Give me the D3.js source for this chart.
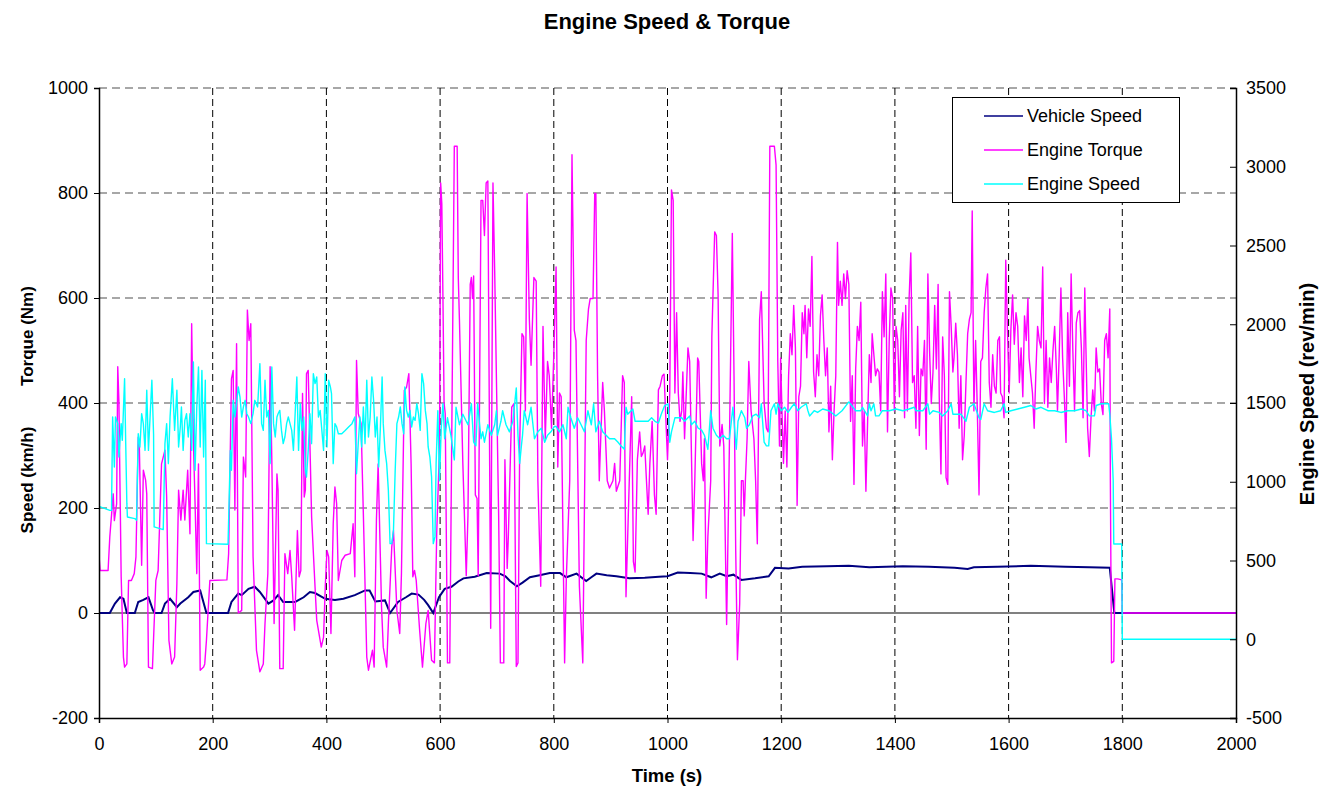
<!DOCTYPE html>
<html>
<head>
<meta charset="utf-8">
<script src="https://cdn.jsdelivr.net/npm/d3@7"></script>
<style>
  html, body { margin: 0; padding: 0; background: #fff; }
  svg { display: block; font-family: "Liberation Sans", Arial, sans-serif; }
</style>
</head>
<body>
<svg id="chart" width="1331" height="786"></svg>
<script>
// ---- data: [time (s), value] ----
const vehicleSpeed = [[0,0],[19,0],[28,18],[37,30],[43,27],[49,0],[63,0],[69,21],[78,25],[87,30],[95,5],[98,0],[110,0],[116,18],[125,27],[137,11],[143,18],[157,30],[166,40],[178,43],[189,0],[227,0],[233,21],[245,37],[251,34],[263,46],[274,50],[283,40],[298,18],[307,24],[315,34],[324,21],[345,21],[360,30],[371,40],[380,38],[398,27],[415,25],[430,27],[450,34],[468,43],[476,43],[486,22],[503,24],[512,0],[526,21],[540,30],[550,37],[562,35],[572,25],[579,15],[588,0],[598,30],[608,46],[620,50],[632,60],[641,66],[661,69],[682,76],[705,75],[715,70],[723,61],[735,51],[745,58],[758,68],[775,72],[793,76],[811,76],[822,68],[840,75],[857,61],[866,68],[875,75],[893,72],[910,70],[933,66],[960,67],[985,69],[1000,70],[1018,77],[1040,76],[1060,75],[1077,68],[1092,75],[1104,70],[1116,73],[1130,63],[1154,66],[1178,70],[1189,86],[1213,85],[1237,88],[1280,89],[1319,90],[1355,87],[1414,89],[1460,88],[1505,86],[1528,84],[1539,87],[1580,88],[1639,90],[1700,88],[1742,87],[1778,86],[1786,0],[2000,0]];

const engineTorque = [[0,110],[2,81],[16,81],[19,145],[25,227],[27,176],[31,208],[33,469],[35,405],[39,69],[43,-84],[45,-103],[49,-97],[52,62],[57,62],[62,75],[65,107],[69,335],[71,316],[75,91],[78,272],[82,253],[84,227],[87,-103],[94,-106],[97,-20],[100,62],[104,81],[110,284],[116,310],[119,221],[123,-52],[128,-97],[133,-84],[137,56],[140,234],[144,177],[148,234],[151,177],[156,272],[160,151],[163,551],[166,329],[169,208],[172,75],[175,284],[178,-109],[184,-103],[186,-97],[189,-52],[195,62],[225,63],[228,113],[233,446],[236,462],[239,196],[242,513],[245,0],[251,5],[254,297],[258,259],[261,577],[264,519],[267,551],[271,107],[277,-71],[283,-112],[289,-97],[292,-20],[297,75],[301,469],[304,291],[308,-20],[313,265],[315,234],[318,-106],[324,-106],[327,113],[332,75],[336,119],[339,69],[344,-33],[349,157],[352,69],[355,81],[358,418],[361,221],[363,234],[365,456],[368,462],[374,183],[380,50],[383,-14],[391,-65],[395,-46],[398,50],[401,119],[404,107],[408,-39],[412,170],[415,240],[418,208],[421,62],[427,100],[433,110],[442,113],[447,170],[450,69],[453,481],[456,380],[461,361],[465,189],[471,-84],[474,-109],[481,-71],[484,-103],[488,177],[491,284],[497,11],[500,-65],[506,-103],[509,-20],[515,126],[518,157],[524,5],[529,-39],[532,75],[537,424],[541,430],[545,456],[549,284],[552,69],[555,81],[558,62],[564,-33],[569,-103],[575,-20],[579,5],[585,-90],[590,-95],[594,150],[599,318],[601,819],[603,780],[605,600],[607,400],[609,380],[613,-95],[617,-95],[625,889],[630,889],[632,639],[634,559],[640,285],[646,71],[649,185],[653,626],[655,639],[657,599],[659,642],[662,225],[665,218],[667,71],[672,786],[675,786],[678,719],[681,819],[684,823],[689,-29],[693,819],[696,652],[703,185],[706,-95],[712,-95],[714,292],[718,85],[720,145],[726,392],[730,399],[734,-102],[737,-95],[740,319],[744,532],[747,526],[750,385],[753,799],[757,559],[760,472],[765,639],[769,632],[772,252],[777,51],[781,546],[785,332],[789,479],[792,452],[796,352],[800,492],[804,659],[807,278],[810,419],[813,412],[819,-95],[822,65],[828,252],[832,873],[836,539],[839,519],[845,51],[851,-95],[857,519],[861,579],[864,599],[869,599],[872,799],[874,799],[877,452],[880,252],[886,439],[889,385],[894,252],[898,238],[904,252],[907,285],[910,232],[916,252],[921,452],[924,439],[927,31],[931,185],[937,412],[940,98],[943,78],[947,292],[951,345],[954,298],[957,305],[960,318],[963,252],[966,188],[969,285],[973,365],[977,225],[980,188],[984,425],[987,432],[991,452],[994,455],[996,399],[1000,292],[1004,419],[1007,806],[1010,786],[1013,419],[1016,572],[1019,419],[1022,365],[1025,385],[1027,459],[1030,332],[1036,505],[1039,479],[1045,138],[1048,252],[1053,486],[1055,479],[1060,285],[1063,252],[1065,332],[1068,28],[1071,145],[1076,252],[1078,526],[1083,726],[1086,719],[1089,606],[1092,318],[1096,359],[1099,318],[1104,-22],[1108,252],[1111,486],[1114,723],[1117,452],[1120,118],[1123,-89],[1127,18],[1130,252],[1133,252],[1135,185],[1137,252],[1140,332],[1143,479],[1147,385],[1152,332],[1155,252],[1158,132],[1162,559],[1165,612],[1170,399],[1174,352],[1177,345],[1180,889],[1188,889],[1191,853],[1194,479],[1197,318],[1199,486],[1201,399],[1204,285],[1207,385],[1210,278],[1213,452],[1216,532],[1219,492],[1222,586],[1225,505],[1228,205],[1231,412],[1234,432],[1237,572],[1240,532],[1242,586],[1245,486],[1248,579],[1251,546],[1254,679],[1257,459],[1260,412],[1263,492],[1266,452],[1269,566],[1272,606],[1275,519],[1278,452],[1281,505],[1284,345],[1287,432],[1290,292],[1293,385],[1296,452],[1299,706],[1301,586],[1304,632],[1307,586],[1310,646],[1313,599],[1316,652],[1319,626],[1322,365],[1325,452],[1328,245],[1331,465],[1334,546],[1337,519],[1340,592],[1343,318],[1346,385],[1349,232],[1352,365],[1355,492],[1358,439],[1360,532],[1363,492],[1366,452],[1369,465],[1372,459],[1375,385],[1378,612],[1381,526],[1384,646],[1387,345],[1390,519],[1393,619],[1396,599],[1399,385],[1402,546],[1405,519],[1408,412],[1411,539],[1414,572],[1417,372],[1419,586],[1422,385],[1425,599],[1428,686],[1431,439],[1434,452],[1437,352],[1440,546],[1443,338],[1446,465],[1449,452],[1452,519],[1455,312],[1458,646],[1461,499],[1464,399],[1467,459],[1470,586],[1473,465],[1476,626],[1478,412],[1481,265],[1484,526],[1487,452],[1490,258],[1493,245],[1496,612],[1499,546],[1502,459],[1504,486],[1507,552],[1510,492],[1513,352],[1516,452],[1519,292],[1522,338],[1525,439],[1528,532],[1531,559],[1534,572],[1536,766],[1539,385],[1542,519],[1545,385],[1548,225],[1551,479],[1554,486],[1557,572],[1560,619],[1563,646],[1566,439],[1569,392],[1572,492],[1575,432],[1578,419],[1581,519],[1584,526],[1586,419],[1589,412],[1592,372],[1595,672],[1598,539],[1601,419],[1604,539],[1607,606],[1610,512],[1613,572],[1616,546],[1619,439],[1622,505],[1625,412],[1628,566],[1631,519],[1634,599],[1636,486],[1639,452],[1642,419],[1645,352],[1648,459],[1651,546],[1654,519],[1657,505],[1660,659],[1663,399],[1666,519],[1669,392],[1672,486],[1675,439],[1678,499],[1681,546],[1684,465],[1686,385],[1689,492],[1692,619],[1695,486],[1698,412],[1701,325],[1704,572],[1707,432],[1710,646],[1713,499],[1716,385],[1719,552],[1722,572],[1725,576],[1728,505],[1731,372],[1734,619],[1736,505],[1739,352],[1742,298],[1745,372],[1748,425],[1751,385],[1754,505],[1757,459],[1760,465],[1763,399],[1766,378],[1769,519],[1772,532],[1775,486],[1778,579],[1779,252],[1781,-95],[1785,-92],[1787,65],[1792,65],[1799,63],[1800,0],[2000,0]];

const engineSpeed = [[0,844],[19,818],[22,818],[24,1411],[27,1094],[29,1411],[33,1369],[35,1157],[39,1369],[41,1263],[45,1654],[47,1242],[49,861],[50,776],[63,766],[66,755],[69,1305],[72,1221],[75,1432],[78,1369],[81,1199],[84,1581],[87,1199],[93,1644],[96,1300],[97,713],[113,696],[116,1242],[119,1369],[122,1115],[125,1411],[129,1654],[133,1326],[137,1581],[140,1221],[143,1348],[145,1475],[148,1199],[151,1390],[154,1432],[157,1284],[160,1432],[163,1199],[166,1760],[169,1073],[172,1475],[175,1729],[178,1221],[181,1707],[184,1157],[187,1644],[189,607],[227,603],[231,1199],[233,1073],[236,1517],[239,1411],[242,1496],[245,1602],[248,1538],[251,1411],[254,1475],[257,1517],[260,1432],[263,1411],[267,1369],[271,1432],[274,1517],[279,1475],[283,1750],[286,1369],[289,1326],[292,1644],[295,1411],[298,1453],[301,1115],[304,1729],[307,1369],[310,1284],[313,1411],[315,1432],[318,1453],[321,1326],[324,1242],[327,1284],[330,1369],[333,1411],[336,1369],[339,1326],[342,1199],[345,1432],[348,1665],[351,1199],[354,1496],[357,1326],[360,1411],[363,1073],[365,1030],[368,1199],[371,1432],[374,1242],[377,1686],[380,1623],[383,1665],[386,1411],[389,1453],[392,1326],[395,1199],[398,1686],[401,1221],[404,1644],[407,1602],[409,1559],[412,1115],[415,1369],[418,1348],[421,1305],[427,1305],[433,1326],[439,1348],[445,1369],[450,1411],[453,1051],[456,1242],[459,1411],[462,1221],[465,1475],[468,1242],[471,1644],[474,1284],[477,1411],[480,1665],[483,1517],[486,1284],[489,1411],[492,1094],[495,1348],[498,1665],[500,1369],[503,1199],[506,1115],[509,945],[512,607],[515,607],[518,692],[521,1073],[524,1369],[527,1411],[530,1475],[533,1369],[536,1305],[538,1602],[541,1453],[544,1411],[547,1453],[550,1348],[553,1411],[556,1390],[559,1496],[562,1432],[565,1326],[568,1686],[571,1623],[574,1453],[577,1369],[579,1221],[582,1157],[585,1030],[588,607],[591,650],[593,1117],[596,1451],[599,1006],[602,1340],[605,1495],[608,1273],[613,1406],[619,1295],[625,1139],[628,1473],[634,1362],[640,1429],[646,1384],[649,1362],[655,1495],[659,1251],[663,1228],[666,1495],[672,1273],[675,1317],[678,1251],[684,1362],[690,1295],[696,1362],[699,1451],[701,1295],[707,1384],[710,1451],[716,1362],[722,1317],[728,1384],[734,1596],[737,1295],[740,1117],[743,1228],[745,1295],[748,1451],[754,1362],[760,1473],[766,1273],[772,1317],[778,1340],[784,1251],[789,1295],[795,1317],[801,1351],[804,1351],[810,1317],[816,1362],[822,1273],[825,1473],[830,1406],[836,1340],[842,1406],[848,1362],[854,1317],[860,1451],[866,1362],[870,1495],[874,1317],[880,1384],[886,1317],[892,1295],[898,1273],[907,1273],[913,1251],[918,1228],[924,1206],[927,1473],[930,1429],[939,1462],[943,1384],[954,1384],[966,1384],[972,1406],[978,1384],[984,1373],[989,1429],[995,1484],[1001,1495],[1004,1251],[1007,1317],[1013,1406],[1025,1406],[1030,1384],[1039,1418],[1042,1362],[1048,1384],[1054,1340],[1060,1328],[1065,1295],[1071,1206],[1076,1451],[1080,1340],[1086,1295],[1092,1273],[1098,1295],[1104,1273],[1109,1273],[1115,1473],[1121,1206],[1124,1384],[1130,1451],[1136,1406],[1139,1340],[1144,1362],[1150,1418],[1156,1429],[1162,1406],[1165,1495],[1170,1251],[1174,1228],[1178,1228],[1182,1451],[1188,1495],[1191,1429],[1194,1495],[1200,1451],[1206,1473],[1212,1440],[1218,1473],[1223,1495],[1229,1451],[1235,1473],[1244,1495],[1247,1451],[1250,1418],[1258,1451],[1264,1440],[1273,1462],[1284,1451],[1296,1418],[1307,1451],[1319,1507],[1331,1451],[1340,1451],[1343,1473],[1352,1418],[1355,1495],[1358,1451],[1363,1495],[1366,1418],[1372,1418],[1378,1451],[1390,1451],[1402,1462],[1414,1451],[1425,1462],[1434,1473],[1437,1451],[1449,1451],[1458,1495],[1461,1429],[1467,1451],[1478,1440],[1484,1418],[1493,1451],[1499,1495],[1502,1429],[1516,1429],[1525,1384],[1531,1473],[1539,1495],[1548,1406],[1551,1395],[1557,1495],[1563,1451],[1575,1440],[1586,1451],[1592,1495],[1595,1440],[1604,1451],[1616,1462],[1628,1473],[1639,1484],[1648,1462],[1657,1473],[1669,1451],[1681,1451],[1692,1440],[1704,1451],[1716,1451],[1728,1462],[1736,1451],[1742,1418],[1751,1418],[1754,1484],[1763,1495],[1776,1495],[1778,1429],[1781,1273],[1784,1006],[1785,605],[1799,605],[1800,0],[2000,0]];

// ---- axis ticks ----
const timeTicks  = [0, 200, 400, 600, 800, 1000, 1200, 1400, 1600, 1800, 2000];
const leftTicks  = [-200, 0, 200, 400, 600, 800, 1000];
const rightTicks = [-500, 0, 500, 1000, 1500, 2000, 2500, 3000, 3500];
const gridTimes  = [200, 400, 600, 800, 1000, 1200, 1400, 1600, 1800];
const gridLeft   = [200, 400, 600, 800, 1000];

const seriesInfo = [
  { name: "Vehicle Speed", color: "#000080" },
  { name: "Engine Torque", color: "#FF00FF" },
  { name: "Engine Speed",  color: "#00FFFF" }
];

// ---- layout ----
const plot = { left: 99, right: 1236, top: 88, bottom: 718 };
const svg = d3.select("#chart");

const x  = d3.scaleLinear().domain([0, 2000]).range([plot.left, plot.right]);
const yL = d3.scaleLinear().domain([-200, 1000]).range([plot.bottom, plot.top]);
const yR = d3.scaleLinear().domain([-500, 3500]).range([plot.bottom, plot.top]);

svg.append("rect").attr("width", 1331).attr("height", 786).attr("fill", "#fff");

// gridlines
svg.append("g").selectAll("line").data(gridLeft).join("line")
  .attr("x1", plot.left).attr("x2", plot.right)
  .attr("y1", d => yL(d)).attr("y2", d => yL(d))
  .attr("stroke", "#505050").attr("stroke-width", 1.2)
  .attr("stroke-dasharray", "8,5");

svg.append("g").selectAll("line").data(gridTimes).join("line")
  .attr("x1", d => x(d)).attr("x2", d => x(d))
  .attr("y1", plot.top).attr("y2", plot.bottom)
  .attr("stroke", "#000").attr("stroke-width", 1)
  .attr("stroke-dasharray", "7,4");

// zero reference line
svg.append("line")
  .attr("x1", plot.left).attr("x2", plot.right)
  .attr("y1", yL(0)).attr("y2", yL(0))
  .attr("stroke", "#808080").attr("stroke-width", 2);

// clip
svg.append("clipPath").attr("id", "plotClip").append("rect")
  .attr("x", plot.left).attr("y", plot.top)
  .attr("width", plot.right - plot.left).attr("height", plot.bottom - plot.top);

const lineL = d3.line().x(d => x(d[0])).y(d => yL(d[1]));
const lineR = d3.line().x(d => x(d[0])).y(d => yR(d[1]));

const series = svg.append("g").attr("clip-path", "url(#plotClip)");
series.append("path").datum(vehicleSpeed).attr("d", lineL)
  .attr("fill", "none").attr("stroke", seriesInfo[0].color).attr("stroke-width", 2);
series.append("path").datum(engineTorque).attr("d", lineL)
  .attr("fill", "none").attr("stroke", seriesInfo[1].color).attr("stroke-width", 1.4)
  .attr("stroke-linejoin", "round");
series.append("path").datum(engineSpeed).attr("d", lineR)
  .attr("fill", "none").attr("stroke", seriesInfo[2].color).attr("stroke-width", 1.4)
  .attr("stroke-linejoin", "round");

// axes
const tickFont = 18;
const gLeft = svg.append("g").attr("transform", `translate(${plot.left},0)`)
  .call(d3.axisLeft(yL).tickValues(leftTicks).tickSize(5).tickPadding(6).tickFormat(d3.format("d")));
const gRight = svg.append("g").attr("transform", `translate(${plot.right},0)`)
  .call(d3.axisRight(yR).tickValues(rightTicks).tickSize(-6).tickPadding(10).tickFormat(d3.format("d")));
const gBottom = svg.append("g").attr("transform", `translate(0,${plot.bottom})`)
  .call(d3.axisBottom(x).tickValues(timeTicks).tickSize(5).tickPadding(14).tickFormat(d3.format("d")));

[gLeft, gRight, gBottom].forEach(g => {
  g.selectAll("text").attr("font-size", tickFont)
    .attr("font-family", '"Liberation Sans", Arial, sans-serif').attr("fill", "#000");
  g.selectAll("line").attr("stroke", "#000");
  g.select(".domain").attr("stroke", "#000").attr("stroke-width", 1.5);
});
gLeft.selectAll("text").text(d => d < 0 ? "-" + Math.abs(d) : d);
gRight.selectAll("text").text(d => d < 0 ? "-" + Math.abs(d) : d);

// titles
svg.append("text").attr("x", 667).attr("y", 29).attr("text-anchor", "middle")
  .attr("font-size", 22).attr("font-weight", "bold").text("Engine Speed & Torque");

svg.append("text").attr("x", 667).attr("y", 782).attr("text-anchor", "middle")
  .attr("font-size", 18.5).attr("font-weight", "bold").text("Time (s)");

svg.append("text").attr("transform", "translate(27,336) rotate(-90)")
  .attr("text-anchor", "middle").attr("dy", "0.35em")
  .attr("font-size", 17).attr("font-weight", "bold").text("Torque (Nm)");
svg.append("text").attr("transform", "translate(27,480) rotate(-90)")
  .attr("text-anchor", "middle").attr("dy", "0.35em")
  .attr("font-size", 17).attr("font-weight", "bold").text("Speed (km/h)");

svg.append("text").attr("transform", "translate(1307,394) rotate(-90)")
  .attr("text-anchor", "middle").attr("dy", "0.35em")
  .attr("font-size", 20).attr("font-weight", "bold").text("Engine Speed (rev/min)");

// legend
const legend = svg.append("g");
legend.append("rect").attr("x", 952.5).attr("y", 97.5).attr("width", 227).attr("height", 105)
  .attr("fill", "#fff").attr("stroke", "#000").attr("stroke-width", 1);
const rows = legend.selectAll("g.row").data(seriesInfo).join("g")
  .attr("class", "row")
  .attr("transform", (d, i) => `translate(0,${116 + i * 34})`);
rows.append("line").attr("x1", 984).attr("x2", 1023).attr("y1", 0).attr("y2", 0)
  .attr("stroke", d => d.color).attr("stroke-width", 1.5);
rows.append("text").attr("x", 1027).attr("dy", "0.35em")
  .attr("font-size", 18).text(d => d.name);
</script>
</body>
</html>
